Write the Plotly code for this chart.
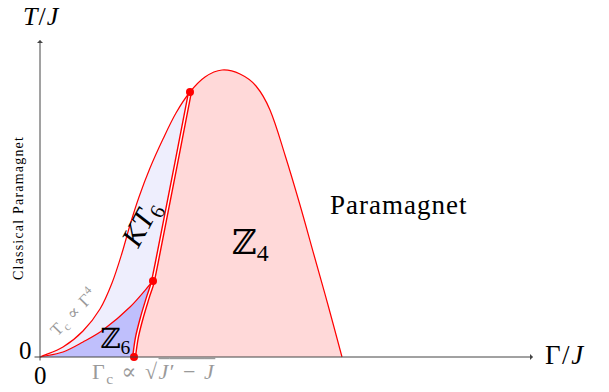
import math
import plotly.graph_objects as go

# Phase boundaries in (Gamma/J, T/J), arbitrary units
outer_x = [0.00, 0.23, 0.43, 0.60, 0.72, 0.82, 0.90, 0.99, 1.10, 1.23, 1.36, 1.50, 1.65, 1.82,
           2.00, 2.16, 2.30, 2.45, 2.60, 2.74, 2.88, 3.02]
outer_y = [0.00, 0.10, 0.26, 0.48, 0.74, 1.04, 1.32, 1.60, 1.89, 2.18, 2.44, 2.65, 2.80, 2.87,
           2.83, 2.71, 2.47, 2.02, 1.52, 1.02, 0.52, 0.00]
kt_top_index = 11  # where the Z4/KT6 boundary meets the outer dome

inner_x = [0.00, 0.23, 0.43, 0.63, 0.90, 1.13]
inner_y = [0.00, 0.05, 0.15, 0.27, 0.50, 0.76]

split_x = [0.94, 0.97, 1.02, 1.08, 1.13, 1.50]
split_y = [0.00, 0.20, 0.40, 0.60, 0.76, 2.65]

dots_x = [1.50, 1.13, 0.94]
dots_y = [2.65, 0.76, 0.00]

RED = "#ff0000"
Z4_FILL = "#ffd9d9"
KT6_FILL = "#eeeefd"
Z6_FILL = "#bfbffc"
SERIF = "Liberation Serif, DejaVu Serif, serif"


def unit_tangents(px, py):
    n = len(px)
    out = []
    for k in range(n):
        a = max(k - 1, 0)
        b = min(k + 1, n - 1)
        dx, dy = px[b] - px[a], py[b] - py[a]
        L = math.hypot(dx, dy) or 1.0
        out.append((dx / L, dy / L))
    return out


def curve(px, py, i0, i1, reverse=False):
    """Smooth cubic Bezier commands along the curve between indices i0 and i1."""
    t = unit_tangents(px, py)
    segs = []
    ks = range(i0, i1)
    if reverse:
        ks = reversed(list(ks))
    for k in ks:
        chord = math.hypot(px[k + 1] - px[k], py[k + 1] - py[k]) / 3
        c1 = (px[k] + t[k][0] * chord, py[k] + t[k][1] * chord)
        c2 = (px[k + 1] - t[k + 1][0] * chord, py[k + 1] - t[k + 1][1] * chord)
        if reverse:
            segs.append(f"C {c2[0]:.4f},{c2[1]:.4f} {c1[0]:.4f},{c1[1]:.4f} {px[k]},{py[k]}")
        else:
            segs.append(f"C {c1[0]:.4f},{c1[1]:.4f} {c2[0]:.4f},{c2[1]:.4f} {px[k + 1]},{py[k + 1]}")
    return " ".join(segs)


n_out = len(outer_x) - 1
n_in = len(inner_x) - 1
n_sp = len(split_x) - 1

z4_path = (f"M {split_x[0]},{split_y[0]} " + curve(split_x, split_y, 0, n_sp) + " "
           + curve(outer_x, outer_y, kt_top_index, n_out) + f" L {split_x[0]},{split_y[0]} Z")
kt6_path = (f"M {outer_x[0]},{outer_y[0]} " + curve(outer_x, outer_y, 0, kt_top_index) + " "
            + curve(split_x, split_y, n_sp - 1, n_sp, reverse=True) + " "
            + curve(inner_x, inner_y, 0, n_in, reverse=True) + " Z")
z6_path = (f"M {inner_x[0]},{inner_y[0]} " + curve(inner_x, inner_y, 0, n_in) + " "
           + curve(split_x, split_y, 0, n_sp - 1, reverse=True) + f" L {inner_x[0]},{inner_y[0]} Z")

outer_path = f"M {outer_x[0]},{outer_y[0]} " + curve(outer_x, outer_y, 0, n_out)
inner_path = f"M {inner_x[0]},{inner_y[0]} " + curve(inner_x, inner_y, 0, n_in)
split_path = f"M {split_x[0]},{split_y[0]} " + curve(split_x, split_y, 0, n_sp)

shapes = []
for p, c in [(z4_path, Z4_FILL), (kt6_path, KT6_FILL), (z6_path, Z6_FILL)]:
    shapes.append(dict(type="path", path=p, xref="x", yref="y", fillcolor=c,
                       line=dict(width=0), layer="below"))
for p in [outer_path, inner_path]:
    shapes.append(dict(type="path", path=p, xref="x", yref="y",
                       line=dict(color=RED, width=1.2), layer="below"))
# double line for the Z4 boundary
shapes.append(dict(type="path", path=split_path, xref="x", yref="y",
                   line=dict(color=RED, width=4.2), layer="below"))
shapes.append(dict(type="path", path=split_path, xref="x", yref="y",
                   line=dict(color="white", width=1.4), layer="below"))

fig = go.Figure()
fig.add_trace(go.Scatter(x=dots_x, y=dots_y, mode="markers",
                         marker=dict(color=RED, size=8), hoverinfo="skip", showlegend=False))

AX = "#444444"
annotations = [
    # axes arrows
    dict(x=4.93, y=0, ax=-0.07, ay=0, xref="x", yref="y", axref="x", ayref="y",
         showarrow=True, arrowhead=1, arrowsize=1, arrowwidth=1, arrowcolor=AX, text=""),
    dict(x=0, y=3.17, ax=0, ay=-0.05, xref="x", yref="y", axref="x", ayref="y",
         showarrow=True, arrowhead=1, arrowsize=1, arrowwidth=1, arrowcolor=AX, text=""),
]


def label(text, x, y, size, color="black", angle=0, spacing=0):
    if spacing:
        text = f"<span style='letter-spacing:{spacing}px'>{text}</span>"
    annotations.append(dict(text=text, x=x, y=y, xref="x", yref="y", showarrow=False,
                            xanchor="center", yanchor="middle", textangle=angle,
                            font=dict(family=SERIF, size=size, color=color)))


label("<i>T</i>/<i>J</i>", 0.01, 3.41, 26, spacing=1)
label("Γ/<i>J</i>", 5.25, 0.02, 27, spacing=1.5)
label("0", 0.00, -0.18, 25)
label("0", -0.15, 0.07, 25)
label("Paramagnet", 3.58, 1.52, 27, spacing=1)
label("ℤ<sub>4</sub>", 2.10, 1.12, 34)
label("<i>KT</i><sub>6</sub>", 1.02, 1.32, 30, angle=-62)
label("ℤ<sub>6</sub>", 0.75, 0.17, 28)
label("T<sub>c</sub> ∝ Γ<sup>4</sup>", 0.33, 0.45, 17, color="#9a9a9a", angle=-46, spacing=1)
label("Γ<sub>c</sub> ∝ √<span style='text-decoration:overline'><i>J</i>′ − <i>J</i></span>",
      1.13, -0.16, 22, color="#9a9a9a", spacing=1.5)
label("Classical Paramagnet", -0.22, 1.49, 14, angle=-90, spacing=1.2)

fig.update_layout(
    width=609, height=392,
    margin=dict(l=0, r=0, t=0, b=0),
    paper_bgcolor="white", plot_bgcolor="white",
    xaxis=dict(range=[-0.40, 5.69], visible=False, fixedrange=True),
    yaxis=dict(range=[-0.35, 3.57], visible=False, fixedrange=True),
    shapes=shapes,
    annotations=annotations,
    showlegend=False,
)

fig.write_html("out.html")
